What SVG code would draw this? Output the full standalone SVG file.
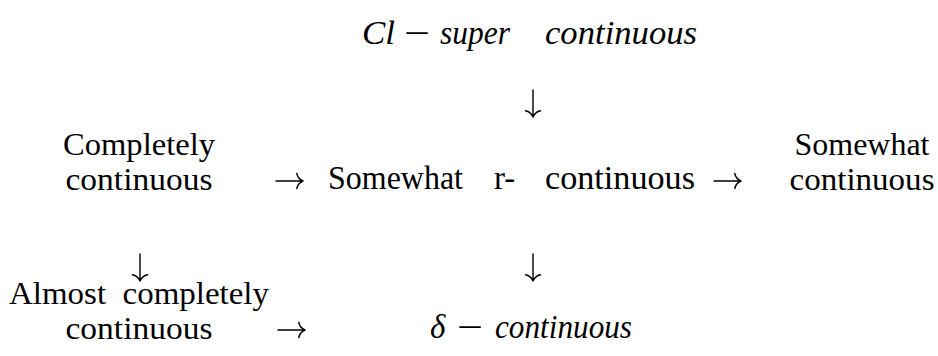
<svg xmlns="http://www.w3.org/2000/svg" width="938" height="356" viewBox="0 0 938 356">
<style>
.t{font-family:"Liberation Serif","Times New Roman",serif;font-size:33px;fill:#000}
.s{font-size:31px}
.i{font-style:italic}
.a{fill:none;stroke:#000;stroke-width:1.4;stroke-linecap:round}
</style>
<defs>
<g id="arr"><path class="a" d="M0,0H27M27,0C23.5,-1.5 21.5,-4 20.8,-7.5M27,0C23.5,1.5 21.5,4 20.8,7.5"/></g>
</defs>
<rect width="938" height="356" fill="#fff"/>
<g id="n-cl">
<text class="t i" x="362" y="44" textLength="33" lengthAdjust="spacingAndGlyphs">Cl</text>
<text class="t" x="404" y="44" textLength="26" lengthAdjust="spacingAndGlyphs">−</text>
<text class="t i" x="440" y="44" textLength="70" lengthAdjust="spacingAndGlyphs">super</text>
<text class="t i" x="545" y="44" textLength="152" lengthAdjust="spacingAndGlyphs">continuous</text>
</g>
<g id="n-completely">
<text class="t s" text-anchor="middle"><tspan x="139" y="155" textLength="152" lengthAdjust="spacingAndGlyphs">Completely</tspan><tspan x="139" y="190" textLength="147" lengthAdjust="spacingAndGlyphs">continuous</tspan></text>
</g>
<g id="n-somewhat-r">
<text class="t" x="328" y="189" textLength="135" lengthAdjust="spacingAndGlyphs">Somewhat</text>
<text class="t" x="494" y="189">r-</text>
<text class="t" x="545" y="189" textLength="150" lengthAdjust="spacingAndGlyphs">continuous</text>
</g>
<g id="n-somewhat">
<text class="t s" text-anchor="middle"><tspan x="862" y="155" textLength="135" lengthAdjust="spacingAndGlyphs">Somewhat</tspan><tspan x="862" y="190" textLength="145" lengthAdjust="spacingAndGlyphs">continuous</tspan></text>
</g>
<g id="n-almost">
<text class="t s" text-anchor="middle" xml:space="preserve" style="white-space:pre"><tspan x="139" y="304" textLength="260" lengthAdjust="spacingAndGlyphs">Almost  completely</tspan><tspan x="139" y="339" textLength="147" lengthAdjust="spacingAndGlyphs">continuous</tspan></text>
</g>
<g id="n-delta">
<text class="t i" x="430" y="338">δ</text>
<text class="t" x="457" y="338" textLength="26" lengthAdjust="spacingAndGlyphs">−</text>
<text class="t i" x="495" y="338" textLength="137" lengthAdjust="spacingAndGlyphs">continuous</text>
</g>
<g id="connectors">
<use href="#arr" transform="translate(533,90) rotate(90)"/>
<use href="#arr" transform="translate(276,181)"/>
<use href="#arr" transform="translate(714,181)"/>
<use href="#arr" transform="translate(140,254) rotate(90)"/>
<use href="#arr" transform="translate(533,254) rotate(90)"/>
<use href="#arr" transform="translate(278,330)"/>
</g>
</svg>
